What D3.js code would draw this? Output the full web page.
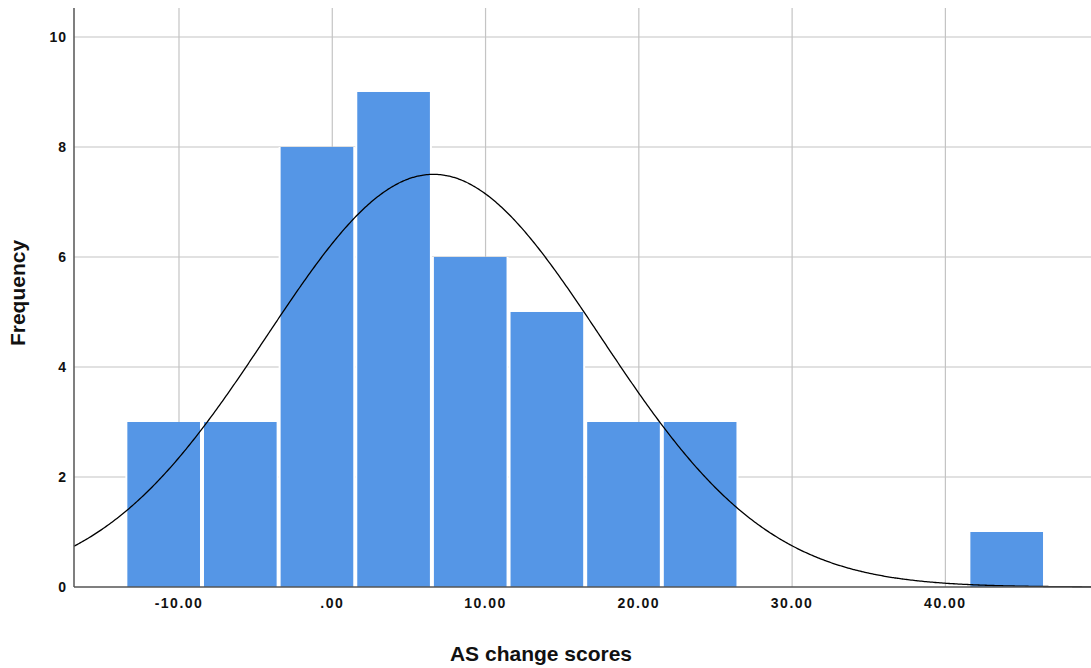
<!DOCTYPE html>
<html lang="en">
<head>
<meta charset="UTF-8">
<title>AS change scores histogram</title>
<script src="https://d3js.org/d3.v7.min.js"></script>
<style>
  body { margin: 0; background: #fff; }
  text { font-family: "Liberation Sans", Arial, Helvetica, sans-serif; font-weight: bold; fill: #111; }
  .tick-x { font-size: 14px; letter-spacing: 1.5px; }
  .tick-y { font-size: 14px; letter-spacing: 1px; }
  .axis-title { font-size: 21px; }
</style>
</head>
<body>
<svg id="chart" width="1091" height="668"></svg>
<script>
// histogram bins (lower edges, width 5) and counts
const binStart = [-13.5, -8.5, -3.5, 1.5, 6.5, 11.5, 16.5, 21.5, 26.5, 31.5, 36.5, 41.5];
const binWidth = 5;
const counts = [3, 3, 8, 9, 6, 5, 3, 3, 0, 0, 0, 1];
const xTicks = [-10, 0, 10, 20, 30, 40];
const xTickLabels = ["-10.00", ".00", "10.00", "20.00", "30.00", "40.00"];
const yTicks = [0, 2, 4, 6, 8, 10];
// fitted normal curve
const fitMean = 6.6;
const fitSD = 10.9;
const nTotal = d3.sum(counts);

const W = 1091, H = 668;
const margin = { top: 8, right: 0, bottom: 81, left: 74 };

const svg = d3.select("#chart");

const x = d3.scaleLinear()
    .domain([-16.85, 49.5])
    .range([margin.left, W - margin.right]);
const y = d3.scaleLinear()
    .domain([0, 10.527])
    .range([H - margin.bottom, margin.top]);

// grid lines
const grid = svg.append("g");
grid.selectAll("line.vg")
    .data(xTicks)
    .join("line")
    .attr("x1", d => x(d)).attr("x2", d => x(d))
    .attr("y1", margin.top).attr("y2", y(0))
    .attr("stroke", "#c4c4c4").attr("stroke-width", 1.2);
grid.selectAll("line.hg")
    .data(yTicks.filter(d => d > 0))
    .join("line")
    .attr("x1", margin.left).attr("x2", W - margin.right)
    .attr("y1", d => y(d)).attr("y2", d => y(d))
    .attr("stroke", "#c4c4c4").attr("stroke-width", 1.2);

// bars
const bins = binStart.map((b, i) => ({ x0: b, x1: b + binWidth, n: counts[i] })).filter(d => d.n > 0);
const bars = svg.append("g");
bars.selectAll("rect.bg")
    .data(bins)
    .join("rect")
    .attr("x", d => x(d.x0)).attr("width", d => x(d.x1) - x(d.x0))
    .attr("y", d => y(d.n)).attr("height", d => y(0) - y(d.n))
    .attr("fill", "#fff");
bars.selectAll("rect.bar")
    .data(bins)
    .join("rect")
    .attr("x", d => x(d.x0) + 2).attr("width", d => x(d.x1) - x(d.x0) - 4)
    .attr("y", d => y(d.n)).attr("height", d => y(0) - y(d.n))
    .attr("fill", "#5596e6");

// normal curve
const xs = d3.range(-16.85, 49.6, 0.1);
const normal = v => nTotal * binWidth / (fitSD * Math.sqrt(2 * Math.PI)) *
    Math.exp(-0.5 * Math.pow((v - fitMean) / fitSD, 2));
svg.append("path")
    .datum(xs)
    .attr("fill", "none")
    .attr("stroke", "#000")
    .attr("stroke-width", 1.3)
    .attr("d", d3.line().x(d => x(d)).y(d => y(normal(d))).curve(d3.curveBasis));

// axes lines
svg.append("line")
    .attr("x1", margin.left).attr("x2", margin.left)
    .attr("y1", margin.top).attr("y2", y(0))
    .attr("stroke", "#555").attr("stroke-width", 1.5);
svg.append("line")
    .attr("x1", margin.left).attr("x2", W - margin.right)
    .attr("y1", y(0)).attr("y2", y(0))
    .attr("stroke", "#555").attr("stroke-width", 1.5);

// tick labels
svg.append("g").selectAll("text")
    .data(xTicks)
    .join("text")
    .attr("class", "tick-x")
    .attr("x", d => x(d))
    .attr("y", 608)
    .attr("text-anchor", "middle")
    .text((d, i) => xTickLabels[i]);
svg.append("g").selectAll("text")
    .data(yTicks)
    .join("text")
    .attr("class", "tick-y")
    .attr("x", 67)
    .attr("y", d => y(d) + 5)
    .attr("text-anchor", "end")
    .text(d => d);

// axis titles
svg.append("text")
    .attr("class", "axis-title")
    .attr("x", 541).attr("y", 661)
    .attr("text-anchor", "middle")
    .text("AS change scores");
svg.append("text")
    .attr("class", "axis-title")
    .attr("transform", "translate(25,293) rotate(-90)")
    .attr("text-anchor", "middle")
    .text("Frequency");
</script>
</body>
</html>
